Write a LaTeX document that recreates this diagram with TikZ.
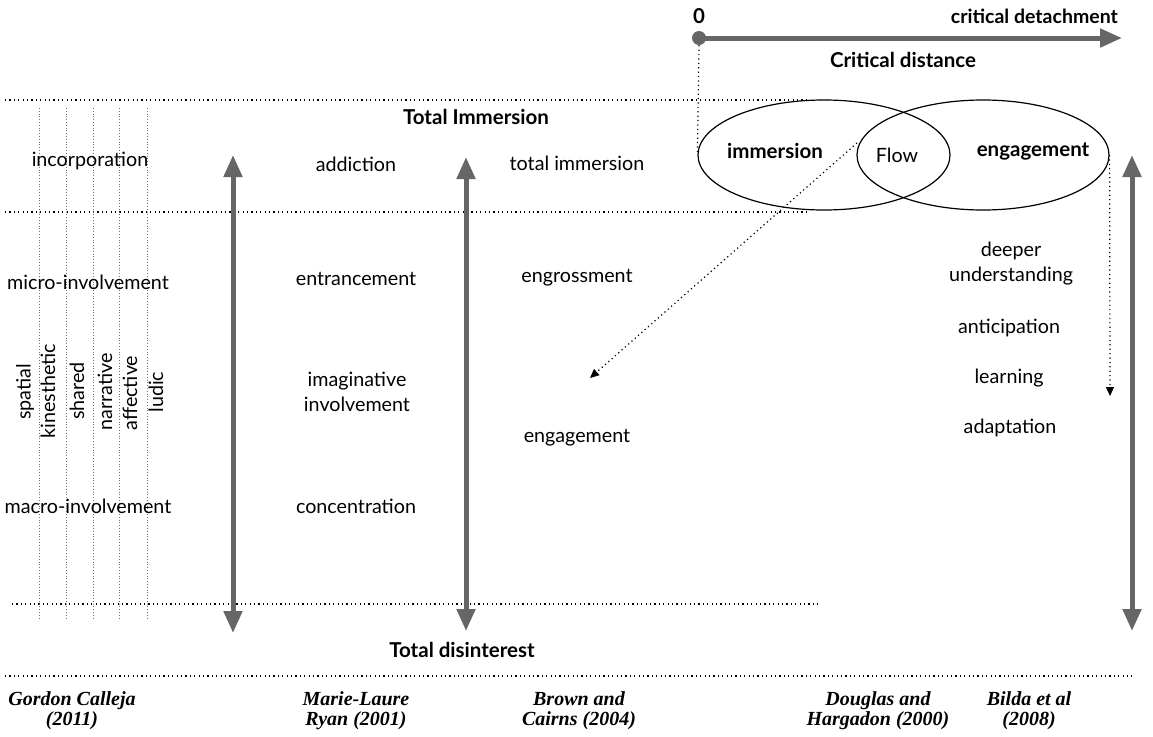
\documentclass[tikz,border=0pt]{standalone}
\usepackage{fontspec}
\setmainfont{Lato}
\newfontfamily\authorfont{Liberation Serif}
\usetikzlibrary{arrows.meta,shapes.geometric}
\definecolor{scalegray}{HTML}{666666}
\begin{document}
\begin{tikzpicture}[x=1pt,y=-1pt,
  lbl/.style={font=\fontsize{19.7}{25}\selectfont, inner sep=0pt, align=center},
  hdr/.style={font=\fontsize{20.5}{24}\selectfont\bfseries, inner sep=0pt},
  author/.style={font=\authorfont\bfseries\itshape\fontsize{20}{20}\selectfont, inner sep=0pt, align=center},
  vlbl/.style={lbl, rotate=90},
  rowline/.style={line width=1.2pt, dash pattern=on 1.2pt off 3.2pt},
  colline/.style={line width=0.8pt, draw=black!55, dash pattern=on 0.8pt off 2pt},
  guide/.style={line width=1.2pt, dash pattern=on 1.2pt off 3.2pt},
  guidearrow/.style={guide, -{Triangle[length=9pt,width=8pt]}},
  scalearrow/.style={line width=5pt, draw=scalegray,
    {Triangle[length=22pt,width=18pt]}-{Triangle[length=22pt,width=18pt]}},
  blob/.style={draw, ellipse, line width=1.2pt, minimum width=252pt, minimum height=110pt, inner sep=0pt}
]
\useasboundingbox (0,0) rectangle (1153,736);

% horizontal row separators
\draw[rowline] (5,100) -- (810,100);
\draw[rowline] (5,212) -- (810,212);
\draw[rowline] (12,604) -- (820,604);
\draw[rowline] (5,676) -- (1132,676);

% Calleja's six involvement columns
\foreach \cx in {39,66,93,119,147} \draw[colline] (\cx,108) -- (\cx,620);

% critical distance axis
\node[circle, fill=scalegray, minimum size=14pt, inner sep=0pt] (zero) at (699,38) {};
\coordinate (detach) at (1122,38);
\draw[line width=5pt, draw=scalegray, -{Triangle[length=22pt,width=18pt]}] (zero.center) -- (detach);
\node[hdr] (zerolbl) at (699,16) {0};
\node[hdr, font=\fontsize{19.5}{24}\selectfont\bfseries, anchor=east] (detlbl) at (1118,16) {critical detachment};
\node[hdr] (cdist) at (903,60) {Critical distance};

% immersion / engagement overlap
\node[blob] (imm) at (824,155) {};
\node[blob] (eng) at (983,155) {};
\node[hdr] (immlbl) at (775,151) {immersion};
\node[lbl] (flow) at (897,155) {Flow};
\node[hdr] (englbl) at (1033,151) {engagement};

\draw[guide] (zero.south) -- (imm.west);
\coordinate (flowtip) at (590,378);
\draw[guidearrow] (857,143) -- (flowtip);
\coordinate (engtip) at (1110,396);
\draw[guidearrow] (eng.east) -- (engtip);

% vertical scales
\coordinate (ryanTop) at (233,155);
\coordinate (ryanBot) at (233,633);
\draw[scalearrow] (ryanBot) -- (ryanTop);
\coordinate (brownTop) at (466,157);
\coordinate (brownBot) at (466,631);
\draw[scalearrow] (brownBot) -- (brownTop);
\coordinate (bildaTop) at (1132,155);
\coordinate (bildaBot) at (1132,631);
\draw[scalearrow] (bildaBot) -- (bildaTop);

\node[hdr] (totimm) at (476,117) {Total Immersion};
\node[hdr] (totdis) at (462,650) {Total disinterest};

% Calleja
\node[lbl] (incorp) at (90,161) {incorporation};
\node[lbl] (micro) at (88,282) {micro-involvement};
\node[lbl] (macro) at (88,506) {macro-involvement};
\node[vlbl] (spatial) at (25,392) {spatial};
\node[vlbl] (kines) at (48,391) {kinesthetic};
\node[vlbl] (shared) at (77,391) {shared};
\node[vlbl] (narr) at (105,392) {narrative};
\node[vlbl] (affect) at (130,393) {affective};
\node[vlbl] (ludic) at (156,392) {ludic};

% Ryan
\node[lbl] (addict) at (356,164) {addiction};
\node[lbl] (entr) at (356,279) {entrancement};
\node[lbl] (imag) at (357,392) {imaginative\\involvement};
\node[lbl] (conc) at (356,506) {concentration};

% Brown and Cairns
\node[lbl] (totimmB) at (577,163) {total immersion};
\node[lbl] (engr) at (577,278) {engrossment};
\node[lbl] (engB) at (577,438) {engagement};

% Bilda et al
\node[lbl] (deeper) at (1011,264) {deeper\\understanding};
\node[lbl] (antic) at (1009,328) {anticipation};
\node[lbl] (learn) at (1009,378) {learning};
\node[lbl] (adapt) at (1010,428) {adaptation};

% sources
\node[author] (calleja) at (72,711) {Gordon Calleja\\(2011)};
\node[author] (ryan) at (356,711) {Marie-Laure\\Ryan (2001)};
\node[author] (brown) at (579,711) {Brown and\\Cairns (2004)};
\node[author] (douglas) at (878,711) {Douglas and\\Hargadon (2000)};
\node[author] (bilda) at (1029,711) {Bilda et al\\(2008)};
\end{tikzpicture}
\end{document}
